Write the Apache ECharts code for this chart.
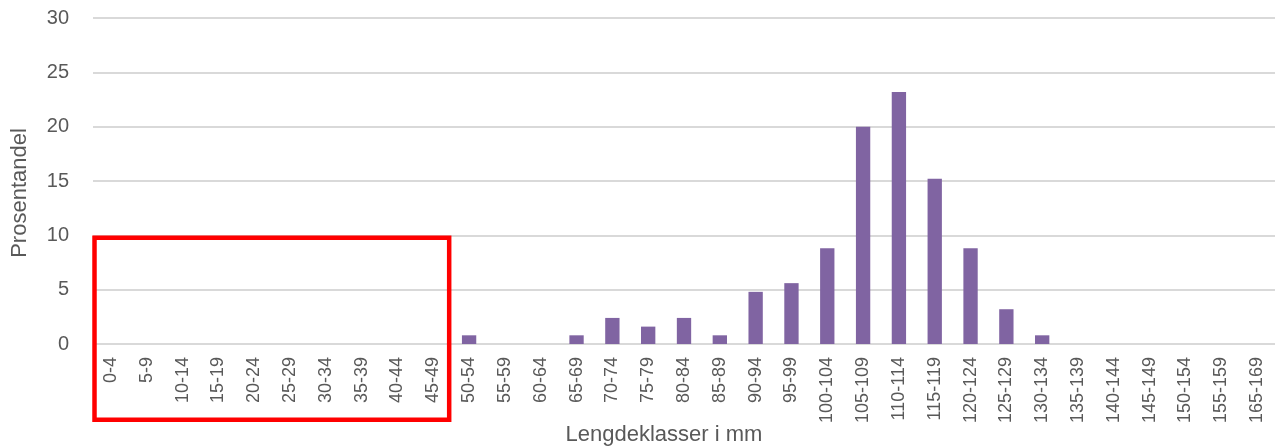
<!DOCTYPE html>
<html>
<head>
<meta charset="utf-8">
<script src="https://cdn.jsdelivr.net/npm/echarts@6/dist/echarts.min.js"></script>
<style>
  html, body { margin: 0; padding: 0; background: #fff; }
  #chart { width: 1279px; height: 448px; }
</style>
</head>
<body>
<div id="chart"></div>
<script>
const categories = ['0-4', '5-9', '10-14', '15-19', '20-24', '25-29', '30-34', '35-39', '40-44', '45-49',
  '50-54', '55-59', '60-64', '65-69', '70-74', '75-79', '80-84', '85-89', '90-94', '95-99',
  '100-104', '105-109', '110-114', '115-119', '120-124', '125-129', '130-134', '135-139',
  '140-144', '145-149', '150-154', '155-159', '165-169']
const shares = [0, 0, 0, 0, 0, 0, 0, 0, 0, 0,
  0.8, 0, 0, 0.8, 2.4, 1.6, 2.4, 0.8, 4.8, 5.6,
  8.8, 20.0, 23.2, 15.2, 8.8, 3.2, 0.8, 0,
  0, 0, 0, 0, 0]
const yTicks = [0, 30, 5]  // min, max, interval
const highlightFrom = '0-4'
const highlightTo = '45-49'
const highlightTop = 10

const font = 'Liberation Sans, Arial, sans-serif'
const chart = echarts.init(document.getElementById('chart'))

chart.setOption({
  animation: false,
  grid: { left: 93, right: 4, top: 18, bottom: 104, outerBoundsMode: 'none', containLabel: false },
  xAxis: {
    type: 'category',
    data: categories,
    name: 'Lengdeklasser i mm',
    nameLocation: 'middle',
    nameGap: 80,
    nameMoveOverlap: false,
    nameTextStyle: { color: '#595959', fontSize: 22, fontFamily: font, padding: [0, 40, 0, 0] },
    axisLine: { show: false },
    axisTick: { show: false },
    axisLabel: {
      interval: 0,
      rotate: 90,
      margin: 13,
      color: '#595959',
      fontSize: 18,
      fontFamily: font
    }
  },
  yAxis: {
    type: 'value',
    min: yTicks[0],
    max: yTicks[1],
    interval: yTicks[2],
    name: 'Prosentandel',
    nameLocation: 'middle',
    nameGap: 62,
    nameMoveOverlap: false,
    nameTextStyle: { color: '#595959', fontSize: 22, fontFamily: font, padding: [0, 24, 0, 0] },
    axisLabel: { color: '#595959', fontSize: 20, fontFamily: font, margin: 24 },
    splitLine: { lineStyle: { color: '#d9d9d9', width: 2 } }
  },
  series: [
    {
      type: 'bar',
      data: shares,
      barWidth: '40%',
      itemStyle: { color: '#8064a2' }
    }
  ]
})

// red highlight box round the empty small-length classes
function drawBox() {
  const left = chart.convertToPixel({ xAxisIndex: 0 }, highlightFrom)
  const right = chart.convertToPixel({ xAxisIndex: 0 }, highlightTo)
  const top = chart.convertToPixel({ yAxisIndex: 0 }, highlightTop)
  const half = (right - left) / 9 / 2
  chart.setOption({
    graphic: [{
      type: 'rect',
      shape: { x: left - half + 1.5, y: top + 2.4, width: right - left + 2 * half - 3.5, height: 182 },
      style: { fill: 'none', stroke: '#ff0000', lineWidth: 4.5 },
      z: 10
    }]
  })
}
drawBox()
</script>
</body>
</html>
